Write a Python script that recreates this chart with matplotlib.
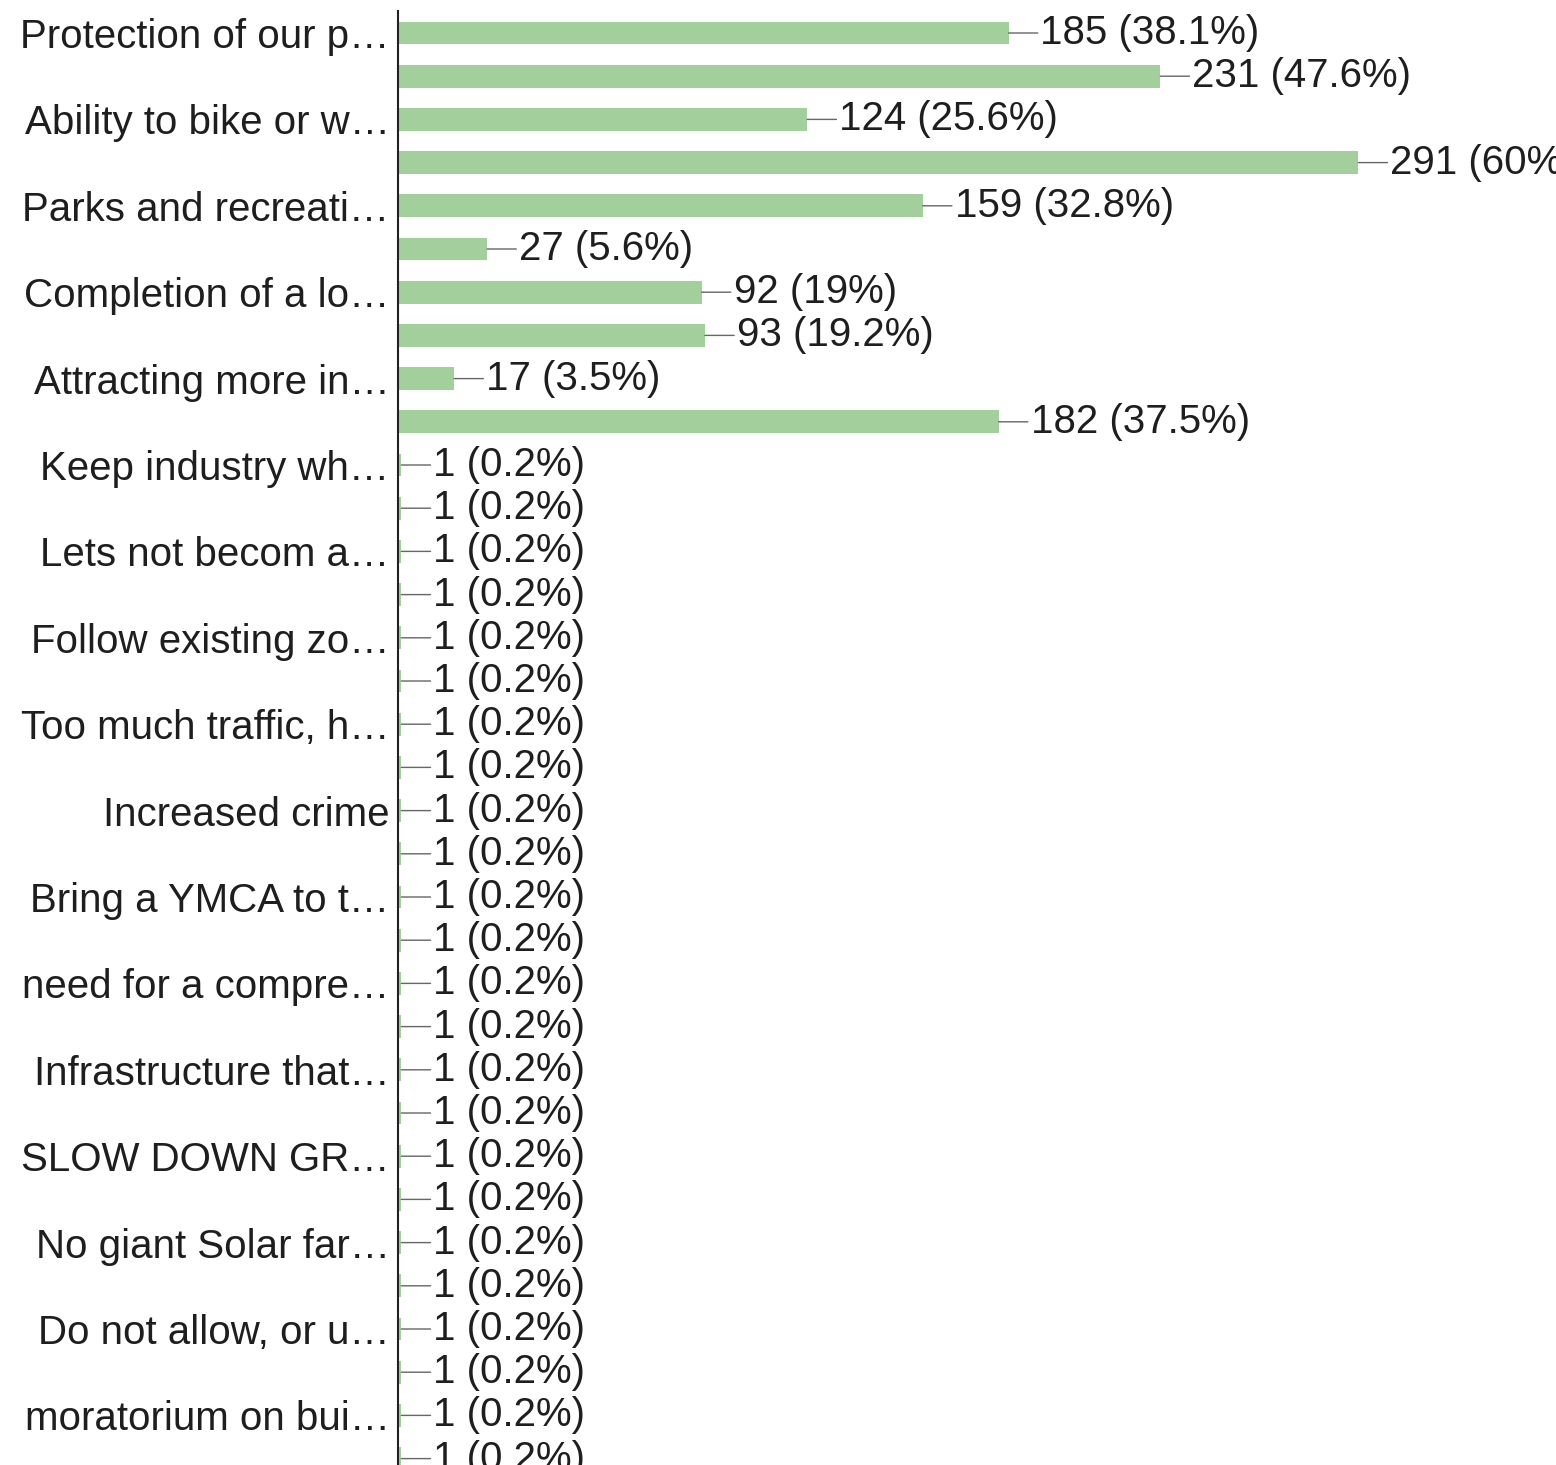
import matplotlib.pyplot as plt
import numpy as np

# Survey responses (only every other row carries a category label)
labels = ['Protection of our p…', 'Ability to bike or w…', 'Parks and recreati…',
          'Completion of a lo…', 'Attracting more in…', 'Keep industry wh…',
          'Lets not becom a…', 'Follow existing zo…', 'Too much traffic, h…',
          'Increased crime', 'Bring a YMCA to t…', 'need for a compre…',
          'Infrastructure that…', 'SLOW DOWN GR…', 'No giant Solar far…',
          'Do not allow, or u…', 'moratorium on bui…']
counts = [185, 231, 124, 291, 159, 27, 92, 93, 17, 182] + [1] * 24
pcts = ['38.1', '47.6', '25.6', '60', '32.8', '5.6', '19', '19.2', '3.5', '37.5'] + ['0.2'] * 24

plt.rcParams['font.family'] = ['Liberation Sans', 'DejaVu Sans']

fig = plt.figure(figsize=(15.56, 14.65), dpi=100)
row_px = 43.2
n = len(counts)
h = n * row_px / 1465
top = 1 - 11.4 / 1465
ax = fig.add_axes([398 / 1556, top - h, 1 - 398 / 1556, h])

y = np.arange(n)
ax.barh(y, counts, height=0.53, color='#a2cf9c', edgecolor='none')

for i, (c, p) in enumerate(zip(counts, pcts)):
    ax.annotate(f'{c} ({p}%)', xy=(c, i), xytext=(32, 0), textcoords='offset pixels',
                ha='left', va='center', fontsize=29, color='#1e1e1e',
                annotation_clip=False,
                arrowprops=dict(arrowstyle='-', color='#666666', lw=1.0,
                                shrinkA=0, shrinkB=0, relpos=(0, 0.5)))

ax.set_xlim(0, 1158 / 3.3)
ax.set_ylim(n - 0.5, -0.5)
ax.set_yticks(y[::2])
ax.set_yticklabels(labels, fontsize=29, color='#1e1e1e')
ax.tick_params(axis='y', length=0, pad=6)
ax.set_xticks([])
for s in ['top', 'right', 'bottom']:
    ax.spines[s].set_visible(False)
ax.spines['left'].set_linewidth(1.5)
ax.spines['left'].set_color('#222222')

plt.savefig('out.png', dpi=100)
